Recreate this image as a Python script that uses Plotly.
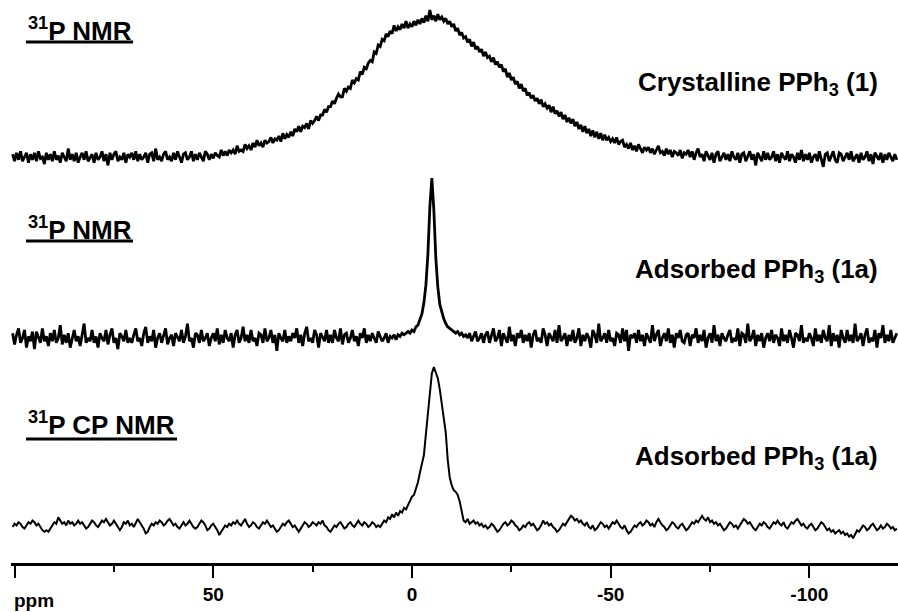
import numpy as np
import plotly.graph_objects as go

# ---------------- data ----------------
ppm_start = 100.5          # chemical shift of first sample (ppm)
ppm_step = -0.5            # sampling interval (ppm)

# 31P NMR, crystalline PPh3 (1)  (arbitrary intensity units)
crystalline_1 = (
    [2, -3, 3, -2, 4, -3, 0, 3, -4, 2, -2, 3, -3, 4, -1, 0, -5, 3, -2, 2]
    + [-3, 4, -2, 1, -4, 3, 0, -3, 6, -2, 2, -3, 3, -4, 0, 3, -2, 4, -3, 0]
    + [2, -4, 3, -2, 0, 4, -3, 2, -6, 3, -2, 2, 4, -3, 0, -2, 3, -4, 2, 0]
    + [3, -2, 4, -3, 2, -2, 0, 3, -4, 2, 3, -3, 6, -2, 0, -3, 2, 4, -2, 0]
    + [-3, 3, -2, 4, 0, -4, 2, 3, -2, 0, 4, -3, 2, -2, 3, 0, -3, 4, 2, -2]
    + [2, -1, 3, 1, 0, 5, 1, 4, 1, 5, 3, 5, 2, 8, 4, 5, 4, 9, 6, 8]
    + [5, 10, 7, 12, 8, 10, 7, 12, 10, 11, 14, 10, 13, 12, 15, 11, 17, 13, 16, 14]
    + [18, 15, 20, 18, 22, 18, 22, 21, 24, 20, 26, 24, 26, 29, 26, 30, 30, 34, 32, 36]
    + [36, 40, 38, 42, 45, 43, 43, 49, 47, 50, 49, 55, 53, 56, 55, 61, 59, 64, 63, 67]
    + [69, 68, 75, 74, 80, 79, 84, 83, 88, 86, 90, 88, 94, 90, 93, 91, 95, 92, 97, 92]
    + [95, 93, 97, 94, 98, 95, 99, 96, 101, 97, 105, 98, 101, 97, 102, 98, 100, 97, 99, 95]
    + [97, 93, 95, 90, 92, 87, 89, 85, 86, 82, 84, 79, 82, 77, 79, 75, 77, 72, 75, 71]
    + [72, 68, 71, 66, 68, 64, 66, 61, 63, 57, 60, 55, 57, 52, 54, 49, 52, 47, 49, 44]
    + [46, 42, 44, 40, 42, 38, 41, 36, 38, 35, 37, 32, 36, 31, 33, 29, 32, 27, 30, 25]
    + [28, 24, 27, 22, 25, 20, 23, 18, 22, 17, 20, 15, 19, 14, 18, 13, 17, 12, 16, 12]
    + [14, 11, 13, 10, 14, 9, 11, 12, 7, 9, 6, 10, 5, 8, 4, 9, 6, 3, 7, 5]
    + [7, 3, 6, 2, 5, 8, 3, 4, 1, 6, 2, 5, 0, 4, 3, 1, 5, -1, 3, 2]
    + [5, 0, 4, -2, 3, 6, 0, 2, -3, 4, 1, -2, 3, -4, 2, 4, -3, 0, 3, -2]
    + [2, -3, 4, 0, -2, 3, -4, 2, 3, -3, 0, 4, -2, 2, -6, 3, 0, -3, 4, -2]
    + [3, -2, 0, 4, -3, 2, -4, 3, 0, -2, 4, -3, 2, 0, -4, 3, -2, 5, -3, 2]
    + [-2, 3, -4, 0, 2, -3, 4, -2, -7, 2, 3, -3, 0, 4, -2, -4, 3, 2, -3, 0]
    + [3, -2, 4, -3, 0, 2, -4, 3, -2, 0, 4, -3, 2, -5, 3, 0, -2, 3, -4, 2]
    + [-2, 3, 0, -3, 2, -2]
)

# 31P NMR, adsorbed PPh3 (1a)
adsorbed_1a = (
    [3, -4, 2, 6, -3, 0, 5, -6, 1, -2, 4, -7, 4, 0, -3, 6, -2, 1, -5, 3]
    + [-2, 5, -3, 0, 8, -4, 2, -3, 3, -6, 0, 5, -2, 1, -5, 3, 9, -3, 0, -2]
    + [5, -3, 1, -6, 3, 0, -2, 5, -4, 2, 6, -3, 0, -7, 3, 1, -2, 5, -3, 0]
    + [-3, 2, 6, -2, 0, -5, 3, 7, -3, 1, -2, 5, -6, 0, 3, -3, 2, 6, -4, 0]
    + [2, -5, 3, 0, -2, 5, -3, 1, 9, -2, 0, -6, 3, 2, -3, 5, -2, 0, 3, -5]
    + [0, 3, -2, 6, -4, 2, -3, 5, 0, -2, 3, -6, 2, 5, -3, 0, 7, -2, 2, -3]
    + [5, -2, 0, -5, 3, 2, -3, 6, -2, 0, 5, -3, 2, -8, 3, 0, -2, 5, -3, 1]
    + [-2, 3, 0, 6, -3, 2, -5, 3, 7, -2, 0, -3, 5, 2, -6, 3, 0, -2, 5, -3]
    + [2, -3, 5, 0, -2, 6, -4, 2, 3, -3, 0, 5, -2, 1, -5, 3, 0, 6, -3, 2]
    + [-2, 3, 0, -3, 4, 1, -2, 0, 3, -3, 1, 0, 2, -1, 2, 1, 3, 2, 3, 4]
    + [3, 5, 4, 7, 8, 11, 15, 22, 33, 52, 82, 100, 80, 50, 32, 21, 16, 12, 9, 7]
    + [6, 5, 4, 3, 4, 2, 3, 1, 2, 0, 3, -2, 1, 4, -2, 0, 3, -3, 2, 4]
    + [-3, 2, 6, -2, 0, 5, -5, 3, 0, -3, 7, -2, 2, -5, 3, 0, 5, -3, 2, -2]
    + [3, -6, 2, 5, -2, 0, -3, 6, 2, -5, 3, 0, -2, 5, -3, 8, -2, 0, 3, -5]
    + [2, -2, 5, -3, 0, 6, -5, 2, -2, 3, 0, -6, 5, 2, -3, 9, -2, 0, 3, -3]
    + [5, -2, 0, -5, 3, 2, -3, 6, -2, 5, -8, 2, 0, 3, -3, 5, -2, 2, -5, 3]
    + [0, -3, 8, -2, 2, 5, -5, 0, 3, -2, 6, -3, 2, -6, 3, 0, 5, -2, -3, 2]
    + [3, -5, 2, 0, 6, -3, 2, -2, 5, -6, 0, 3, -3, 8, -2, 2, -5, 3, 0, -2]
    + [2, 5, -3, 0, -2, 6, -5, 3, 2, -3, 9, -2, 0, 5, -5, 2, -2, 3, -6, 0]
    + [3, -2, 5, -3, 2, 0, -5, 6, -2, 2, -3, 5, 0, -6, 3, 2, -2, 8, -3, 0]
    + [-2, 3, 0, -5, 6, -2, 2, -3, 5, 0, -2, 8, -5, 3, -2, 2, -6, 5, 0, -3]
    + [5, -2, 2, -3, 9, -2, 0, 3, -5, 2, 6, -3, 0, -2, 5, -6, 3, 0, 8, -3]
    + [2, -2, 5, -3, 0, 3]
)

# 31P CP NMR, adsorbed PPh3 (1a)
adsorbed_cp_1a = (
    [0, 2, 1, 3, 2, 0, -1, 1, 3, 2, 4, 3, 1, 2, 0, -2, -3, -2, -3, -1]
    + [1, 3, 2, 6, 4, 2, 3, 1, 4, 2, 3, 1, 2, 4, 2, 3, 1, -1, 0, 2]
    + [4, 3, 1, 0, 2, 4, 3, 5, 3, 1, 2, 4, 2, 0, -2, 0, 3, 2, 4, 1]
    + [2, 0, 3, 5, 3, 1, -1, -4, -3, 0, 2, 1, 3, 2, 4, 3, 1, 2, 4, 5]
    + [3, 1, 2, 0, -1, 1, 3, 1, 2, 4, 2, 0, -1, 0, 2, 4, 3, 1, -2, -1]
    + [1, 2, 0, -2, -5, -3, -1, 1, 0, 2, 1, 3, 2, 4, 2, 1, 3, 5, 2, 0]
    + [1, 3, 2, 0, -1, 1, 3, 2, 4, 2, 0, 1, -1, -3, -2, 0, 2, 1, 3, 4]
    + [2, 0, 1, -1, -3, -1, 1, 3, 2, 0, 1, 3, 2, 1, 3, 2, 4, 1, 0, -2]
    + [-3, -1, 1, 0, 2, 3, 1, -1, 0, 2, 3, 1, 0, 2, 4, 2, 1, 3, 2, 0]
    + [1, 3, 2, 0, 1, 0, 2, 4, 3, 6, 5, 8, 6, 9, 7, 10, 9, 12, 11, 14]
    + [16, 19, 20, 24, 28, 34, 39, 45, 58, 71, 85, 96, 100, 96, 93, 86, 77, 69, 59, 42]
    + [31, 26, 23, 22, 20, 16, 10, 4, 3, 5, 2, 3, 4, 2, 3, 1, 2, 0, 1, -1]
    + [0, 2, 1, -1, -3, -2, 0, 2, 3, 1, 2, 4, 3, 1, 0, -2, -1, 1, 0, 2]
    + [3, 1, 2, 0, -2, -1, 1, 4, 2, 3, 1, 2, 0, -1, -3, -2, 0, 2, 1, 3]
    + [5, 7, 6, 4, 5, 3, 4, 2, 1, 3, 0, -1, 1, -2, -1, 1, 3, 2, 0, 1]
    + [-1, 1, 3, 2, 4, 2, 0, -1, 1, -2, -4, -3, -1, 1, 0, 2, 3, 1, 2, 4]
    + [3, 1, 2, 0, 3, 5, 3, 1, 0, -2, -1, 1, 3, 2, 0, -1, 1, 2, 0, -2]
    + [-1, 1, 3, 2, 4, 3, 5, 7, 5, 4, 6, 3, 4, 2, 3, 1, 2, 0, -2, -1]
    + [1, 3, 2, 0, 1, -1, 1, 3, 5, 4, 2, 3, 1, -1, -2, 0, 2, 1, 3, 2]
    + [0, -1, 1, 3, 2, 4, 2, 1, 3, 0, -1, 1, 3, 2, 4, 5, 3, 1, 2, 0]
    + [-1, 1, 2, 0, -2, -1, 1, 3, 2, 0, -2, -1, -3, -2, -4, -3, -2, -4, -3, -5]
    + [-4, -6, -5, -7, -4, -2, -3, -1, 1, 0, -2, -1, 1, 2, 0, -2, -1, 1, -1, 0]
    + [2, 1, -1, 0, -2, -1]
)

tick_vals = [100, 50, 0, -50, -100]
tick_text = ["", "50", "0", "-50", "-100"]
minor_tick_vals = [75, 25, -25, -75]

titles = ["<sup>31</sup>P NMR", "<sup>31</sup>P NMR", "<sup>31</sup>P CP NMR"]
labels = ["Crystalline PPh<sub>3</sub> (1)", "Adsorbed PPh<sub>3</sub> (1a)",
          "Adsorbed PPh<sub>3</sub> (1a)"]

# ---------------- geometry ----------------
W, H = 898, 612
ML, MR, MT, MB = 11, 0, 0, 48
PW, PH = W - ML - MR, H - MT - MB
FONT = "Liberation Sans"


def fx(px):
    return (px - ML) / PW


def fy(py):
    return (PH - (py - MT)) / PH


# (baseline pixel, pixels per unit, top pixel, bottom pixel) for each panel
panels = [(157, 1.4, 0, 178), (338, 1.6, 168, 364), (527, 1.6, 362, PH)]

ppm = ppm_start + ppm_step * np.arange(len(crystalline_1))
series = [crystalline_1, adsorbed_1a, adsorbed_cp_1a]
widths = [2.8, 2.8, 2.0]

fig = go.Figure()
axis_names = ["y", "y2", "y3"]
for i, s in enumerate(series):
    fig.add_trace(go.Scatter(x=ppm, y=s, mode="lines", yaxis=axis_names[i],
                             line=dict(color="black", width=widths[i]),
                             hoverinfo="skip", showlegend=False))

layout_axes = {}
for i, (yb, sc, top, bot) in enumerate(panels):
    key = "yaxis" if i == 0 else f"yaxis{i+1}"
    d0 = max(0.0, fy(bot))
    d1 = min(1.0, fy(top))
    layout_axes[key] = dict(domain=[d0, d1],
                            range=[-(bot - yb) / sc, (yb - top) / sc],
                            visible=False, fixedrange=True, anchor="x")

fnt = dict(family=FONT, color="black", weight="bold")

annotations = []
title_y = [29.5, 228.5, 423.5]
label_y = [83, 270, 457]
for i in range(3):
    annotations.append(dict(text=titles[i], x=fx(26), y=fy(title_y[i]), xref="paper",
                            yref="paper", xanchor="left", yanchor="middle",
                            showarrow=False, font=dict(fnt, size=26)))
    annotations.append(dict(text=labels[i], x=fx(880), y=fy(label_y[i]), xref="paper",
                            yref="paper", xanchor="right", yanchor="middle",
                            showarrow=False, font=dict(fnt, size=26)))
annotations.append(dict(text="ppm", x=fx(12), y=fy(600), xref="paper", yref="paper",
                        xanchor="left", yanchor="middle", showarrow=False,
                        font=dict(fnt, size=19)))

underlines = [(26, 133, 42), (26, 133, 241), (26, 177, 439)]
shapes = [dict(type="line", xref="paper", yref="paper", x0=fx(a), x1=fx(b),
               y0=fy(y), y1=fy(y), line=dict(color="black", width=3))
          for a, b, y in underlines]

fig.update_layout(
    width=W, height=H,
    margin=dict(l=ML, r=MR, t=MT, b=MB, pad=0),
    paper_bgcolor="white", plot_bgcolor="white",
    showlegend=False,
    xaxis=dict(range=[100.9, -122.3], anchor="free", position=0,
               showline=True, linecolor="black", linewidth=3,
               ticks="outside", tickvals=tick_vals, ticktext=tick_text,
               ticklen=12, tickwidth=2, tickcolor="black",
               tickfont=dict(fnt, size=19),
               minor=dict(tickvals=minor_tick_vals, ticks="outside", ticklen=6,
                          tickwidth=2, tickcolor="black"),
               showgrid=False, zeroline=False, fixedrange=True),
    annotations=annotations,
    shapes=shapes,
    **layout_axes,
)

fig.write_html("out.html")
